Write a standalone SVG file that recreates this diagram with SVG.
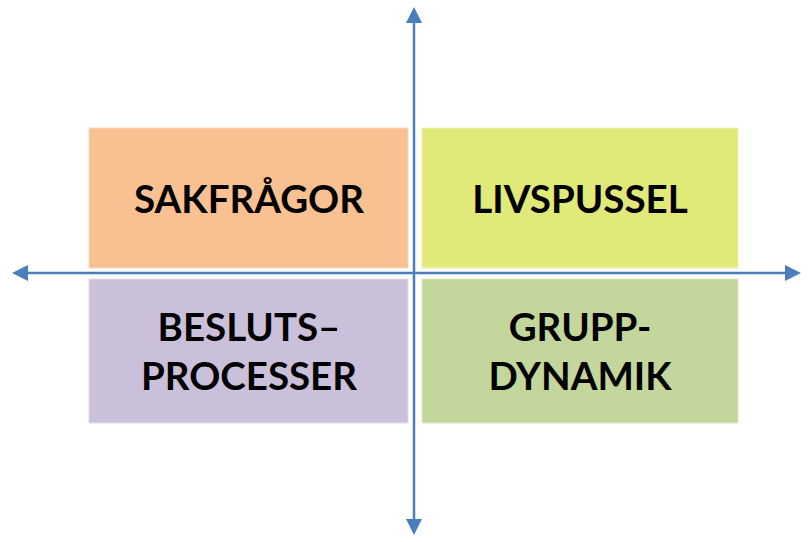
<svg xmlns="http://www.w3.org/2000/svg" width="808" height="542" viewBox="0 0 808 542">
<style>
.box{stroke-width:1}
.lbl{font-family:Lato,"Open Sans","Liberation Sans",sans-serif;font-weight:bold;font-size:38.5px;fill:#000;text-anchor:middle}
.ax{stroke:#4a7ebb;stroke-width:2.5;fill:none}
</style>
<defs>
<marker id="ah" viewBox="0 0 16 16" refX="2" refY="8" markerWidth="16" markerHeight="16" markerUnits="userSpaceOnUse" orient="auto">
<path d="M0,0 L16,8 L0,16 Z" fill="#4a7ebb"/>
</marker>
</defs>
<rect width="808" height="542" fill="#fff"/>
<g id="sakfragor">
<rect class="box" x="89" y="128" width="319" height="140" fill="#f9c091" stroke="#fbd9bf"/>
<text class="lbl" x="249" y="213">SAKFRÅGOR</text>
</g>
<g id="livspussel">
<rect class="box" x="422" y="128" width="316" height="140" fill="#e1e978" stroke="#eef2b8"/>
<text class="lbl" x="580" y="213">LIVSPUSSEL</text>
</g>
<g id="beslutsprocesser">
<rect class="box" x="89" y="279" width="319" height="144" fill="#cbc0da" stroke="#e3dcea"/>
<text class="lbl" x="249" y="341">BESLUTS–</text>
<text class="lbl" x="249" y="390">PROCESSER</text>
</g>
<g id="gruppdynamik">
<rect class="box" x="422" y="279" width="316" height="144" fill="#c3d69b" stroke="#dde8c6"/>
<text class="lbl" x="580" y="341">GRUPP-</text>
<text class="lbl" x="580" y="390">DYNAMIK</text>
</g>
<g id="connectors">
<line class="ax" x1="414" y1="272" x2="414" y2="21" marker-end="url(#ah)"/>
<line class="ax" x1="414" y1="272" x2="414" y2="521" marker-end="url(#ah)"/>
<line class="ax" x1="414" y1="273" x2="26" y2="273" marker-end="url(#ah)"/>
<line class="ax" x1="414" y1="273" x2="787" y2="273" marker-end="url(#ah)"/>
</g>
</svg>
